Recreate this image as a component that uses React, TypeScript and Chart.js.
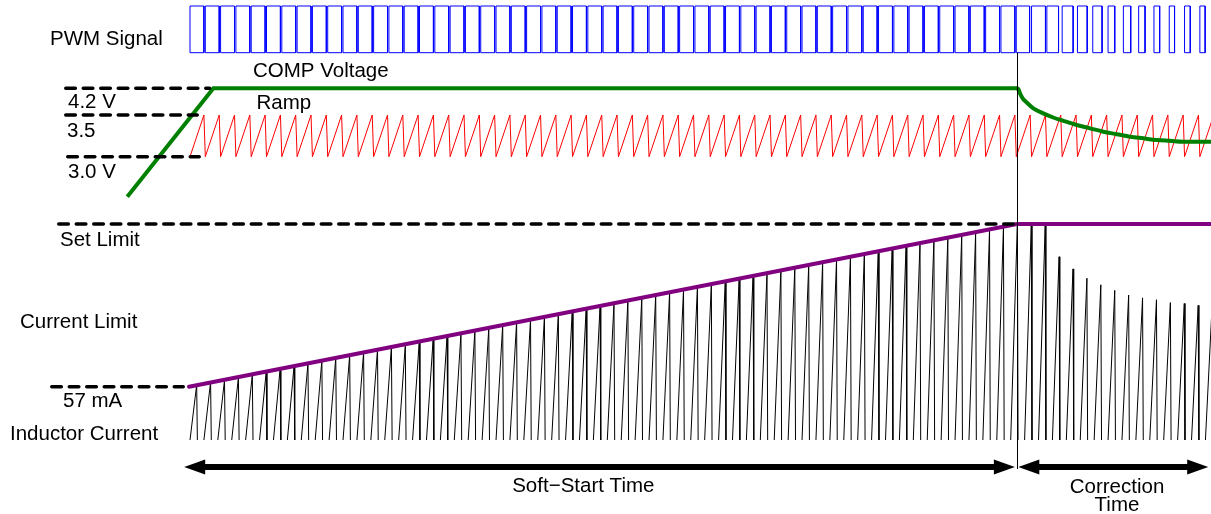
import React, { useEffect, useRef } from "react";
import { Chart, registerables } from "chart.js";

Chart.register(...registerables);

const WIDTH = 1211;
const HEIGHT = 514;

// ---------------- data (time in µs) ----------------
const pwmPeriodUs = 1.1;
// on-time of every PWM pulse (µs), one entry per switching cycle
const pwmOnTimeUs = [
  1.0, 1.0, 1.0, 1.0, 1.0, 1.0, 1.0, 1.0, 1.0,
  1.0, 1.0, 1.0, 1.0, 1.0, 1.0, 1.0, 1.0, 1.0,
  1.0, 1.0, 1.0, 1.0, 1.0, 1.0, 1.0, 1.0, 1.0,
  1.0, 1.0, 1.0, 1.0, 1.0, 1.0, 1.0, 1.0, 1.0,
  1.0, 1.0, 1.0, 1.0, 1.0, 1.0, 1.0, 1.0, 1.0,
  1.0, 1.0, 1.0, 1.0, 1.0, 1.0, 1.0, 1.0, 1.0,
  0.96, 1.0, 0.84, 0.79, 0.7, 0.67, 0.48, 0.53, 0.46, 0.41, 0.38, 0.41, 0.38,
];

const rampRiseUs = 1.0;
const rampValleyV = 3.0;
const rampPeakV = 3.5;

// COMP voltage: soft-start rise, plateau, then settling during correction
const compRiseTimeUs = [-4.51, 1.68, 59.45];
const compRiseV = [2.52, 3.82, 3.82];
const compDecayTimeUs = [
  59.45, 59.55, 59.67, 59.86, 60.15, 60.63, 61.34, 62.06, 62.78,
  63.75, 64.7, 65.66, 66.62, 67.58, 68.53, 69.5, 70.45, 71.41, 73.4,
];
const compDecayV = [
  3.82, 3.81, 3.76, 3.7, 3.65, 3.58, 3.52, 3.47, 3.43,
  3.38, 3.34, 3.3, 3.27, 3.24, 3.22, 3.2, 3.19, 3.18, 3.18,
];

const inductorPeriodUs = 1.0;
const inductorRiseUs = 0.48;
const inductorFallUs = 0.05;
// peak inductor current of every cycle (mA)
const inductorPeakMA = [
  59, 62, 64, 67, 70, 73, 76, 79, 82, 85,
  88, 91, 94, 97, 100, 102, 105, 108, 111, 114,
  117, 120, 123, 126, 129, 132, 135, 138, 140, 143,
  146, 149, 152, 155, 158, 161, 164, 167, 170, 173,
  176, 178, 181, 184, 187, 190, 193, 196, 199, 202,
  205, 208, 211, 214, 216, 219, 222, 225, 228, 231,
  229, 229, 196, 183, 173, 166, 160, 155, 152, 150, 147, 146, 144, 144,
];

const limitTimeUs = [-0.07, 59.45, 73.4];
const limitMA = [57, 231, 231];

const softStartEndUs = 59.45;
const phaseStartUs = [-0.42, 59.55];
const phaseEndUs = [59.3, 73.2];
const phaseLabels = [["Soft\u2212Start Time"], ["Correction", "Time"]];

const levelLabels = ["4.2 V", "3.5", "3.0 V", "57 mA"];
const signalLabels = ["PWM Signal", "COMP Voltage", "Ramp", "Set Limit", "Current Limit", "Inductor Current"];

// ---------------- layout (pixels) ----------------
const X_ZERO_PX = 190;
const PX_PER_US = 13.91;
const PWM_LOW_PX = 52.7;
const PWM_HIGH_PX = 6;
const V_VALLEY_PX = 156.7;
const V_PEAK_PX = 115;
const I_ZERO_PX = 440;
const I_REF_PX = 386.7;
const ARROW_Y_PX = 467;
const FONT = '20.5px "Liberation Sans", Arial, Helvetica, sans-serif';

function axisRange(v1: number, p1: number, v2: number, p2: number) {
  const f1 = (HEIGHT - p1) / HEIGHT;
  const f2 = (HEIGHT - p2) / HEIGHT;
  const span = (v2 - v1) / (f2 - f1);
  const min = v1 - f1 * span;
  return { min, max: min + span };
}

type P = { x: number; y: number | null };

function pwmPoints(): P[] {
  const pts: P[] = [];
  pwmOnTimeUs.forEach((on, k) => {
    const t0 = k * pwmPeriodUs;
    pts.push({ x: t0, y: 0 }, { x: t0, y: 1 }, { x: t0 + on, y: 1 }, { x: t0 + on, y: 0 }, { x: t0, y: 0 }, { x: t0 + on, y: null });
  });
  return pts;
}

function rampPoints(): P[] {
  const pts: P[] = [];
  for (let k = 0; k < pwmOnTimeUs.length; k++) {
    const t0 = k * pwmPeriodUs;
    pts.push({ x: t0, y: rampValleyV }, { x: t0 + rampRiseUs, y: rampPeakV });
  }
  pts.push({ x: pwmOnTimeUs.length * pwmPeriodUs, y: rampValleyV });
  return pts;
}

function inductorPoints(): P[] {
  const pts: P[] = [];
  inductorPeakMA.forEach((pk, k) => {
    const t0 = k * inductorPeriodUs;
    pts.push(
      { x: t0, y: 0 },
      { x: t0 + inductorRiseUs, y: pk },
      { x: t0 + inductorRiseUs + inductorFallUs, y: 0 },
      { x: t0 + inductorRiseUs + inductorFallUs, y: null }
    );
  });
  return pts;
}

const annotationPlugin = {
  id: "diagramAnnotations",
  afterDatasetsDraw(chart: any) {
    const ctx: CanvasRenderingContext2D = chart.ctx;
    const x = chart.scales.x;
    const yPwm = chart.scales.yPwm;
    const yVolt = chart.scales.yVolt;
    const yCur = chart.scales.yCur;
    ctx.save();

    // dashed reference levels
    const compPlateau = Math.max(...compRiseV);
    const setLimit = Math.max(...limitMA);
    const dashed = [
      { y: yVolt.getPixelForValue(compPlateau), from: 64, to: x.getPixelForValue(compRiseTimeUs[1]) - 2 },
      { y: yVolt.getPixelForValue(rampPeakV), from: 64, to: 199 },
      { y: yVolt.getPixelForValue(rampValleyV), from: 66, to: 201 },
      { y: yCur.getPixelForValue(setLimit), from: 57, to: x.getPixelForValue(softStartEndUs) },
      { y: yCur.getPixelForValue(limitMA[0]), from: 50, to: 185 },
    ];
    ctx.strokeStyle = "#000";
    ctx.lineWidth = 3.6;
    ctx.lineCap = "round";
    ctx.setLineDash([9.5, 8]);
    for (const d of dashed) {
      ctx.beginPath();
      ctx.moveTo(d.from + 1.8, d.y);
      ctx.lineTo(d.to - 1.8, d.y);
      ctx.stroke();
    }
    ctx.setLineDash([]);

    // divider between soft-start and correction
    const xd = Math.round(x.getPixelForValue(softStartEndUs)) + 0.5;
    ctx.lineCap = "butt";
    ctx.lineWidth = 1;
    ctx.beginPath();
    ctx.moveTo(xd, yPwm.getPixelForValue(0));
    ctx.lineTo(xd, ARROW_Y_PX + 2);
    ctx.stroke();

    // phase arrows
    ctx.fillStyle = "#000";
    const headL = 21;
    const headH = 7.5;
    phaseStartUs.forEach((s, i) => {
      const a = x.getPixelForValue(s);
      const b = x.getPixelForValue(phaseEndUs[i]);
      const y = ARROW_Y_PX;
      ctx.fillRect(a + headL - 1, y - 3, b - a - 2 * headL + 2, 6);
      ctx.beginPath();
      ctx.moveTo(a, y);
      ctx.lineTo(a + headL, y - headH);
      ctx.lineTo(a + headL, y + headH);
      ctx.closePath();
      ctx.fill();
      ctx.beginPath();
      ctx.moveTo(b, y);
      ctx.lineTo(b - headL, y - headH);
      ctx.lineTo(b - headL, y + headH);
      ctx.closePath();
      ctx.fill();
    });

    // texts
    ctx.font = FONT;
    ctx.textBaseline = "alphabetic";
    ctx.textAlign = "left";
    const leftTexts: [string, number, number][] = [
      [signalLabels[0], 50, 45],
      [signalLabels[1], 253, 77],
      [signalLabels[2], 256.5, 109],
      [levelLabels[0], 68, 108],
      [levelLabels[1], 67, 137],
      [levelLabels[2], 68, 178],
      [signalLabels[3], 60, 246],
      [signalLabels[4], 20, 328],
      [levelLabels[3], 63, 407],
      [signalLabels[5], 10, 440],
    ];
    for (const [t, tx, ty] of leftTexts) ctx.fillText(t, tx, ty);

    ctx.textAlign = "center";
    const phaseTextPos: [number, number, number][] = [
      [583.3, 491.7, 0],
      [1117, 493.3, 17.6],
    ];
    phaseLabels.forEach((lines, i) => {
      const [cx, by, lh] = phaseTextPos[i];
      lines.forEach((ln, j) => ctx.fillText(ln, cx, by + j * lh));
    });

    ctx.restore();
  },
};

export default function App() {
  const ref = useRef<HTMLCanvasElement>(null);

  useEffect(() => {
    document.body.style.margin = "0";
    document.body.style.overflow = "hidden";
    const canvas = ref.current!;
    const line = { showLine: true, pointRadius: 0, pointHoverRadius: 0, fill: false, tension: 0 };
    const chart = new Chart(canvas, {
      type: "scatter",
      data: {
        datasets: [
          {
            ...line,
            label: "COMP Voltage (rise)",
            data: compRiseTimeUs.map((t, i) => ({ x: t, y: compRiseV[i] })),
            borderColor: "#008000",
            borderWidth: 4,
            borderCapStyle: "butt",
            borderJoinStyle: "miter",
            yAxisID: "yVolt",
          },
          {
            ...line,
            label: "COMP Voltage (correction)",
            data: compDecayTimeUs.map((t, i) => ({ x: t, y: compDecayV[i] })),
            borderColor: "#008000",
            borderWidth: 4,
            cubicInterpolationMode: "monotone",
            borderCapStyle: "round",
            yAxisID: "yVolt",
          },
          {
            ...line,
            label: "Current Limit",
            data: limitTimeUs.map((t, i) => ({ x: t, y: limitMA[i] })),
            borderColor: "#800080",
            borderWidth: 4,
            borderCapStyle: "round",
            yAxisID: "yCur",
          },
          {
            ...line,
            label: "Ramp",
            data: rampPoints(),
            borderColor: "#ff0000",
            borderWidth: 1,
            yAxisID: "yVolt",
          },
          {
            ...line,
            label: "Inductor Current",
            data: inductorPoints(),
            borderColor: "#000000",
            borderWidth: 1,
            yAxisID: "yCur",
          },
          {
            ...line,
            label: "PWM Signal",
            data: pwmPoints(),
            borderColor: "#0000ff",
            borderWidth: 1,
            yAxisID: "yPwm",
          },
        ] as any,
      },
      options: {
        responsive: false,
        maintainAspectRatio: false,
        animation: false,
        events: [],
        layout: { padding: 0 },
        plugins: { legend: { display: false }, tooltip: { enabled: false }, title: { display: false } },
        scales: {
          x: {
            type: "linear",
            display: false,
            min: -X_ZERO_PX / PX_PER_US,
            max: (WIDTH - X_ZERO_PX) / PX_PER_US,
          },
          yPwm: { type: "linear", axis: "y", position: "left", display: false, ...axisRange(0, PWM_LOW_PX, 1, PWM_HIGH_PX) },
          yVolt: {
            type: "linear",
            axis: "y",
            position: "left",
            display: false,
            ...axisRange(rampValleyV, V_VALLEY_PX, rampPeakV, V_PEAK_PX),
          },
          yCur: {
            type: "linear",
            axis: "y",
            position: "left",
            display: false,
            ...axisRange(0, I_ZERO_PX, limitMA[0], I_REF_PX),
          },
        } as any,
      },
      plugins: [annotationPlugin],
    });
    return () => chart.destroy();
  }, []);

  return (
    <div style={{ width: WIDTH, height: HEIGHT }}>
      <canvas ref={ref} width={WIDTH} height={HEIGHT} style={{ display: "block", width: WIDTH, height: HEIGHT }} />
    </div>
  );
}
